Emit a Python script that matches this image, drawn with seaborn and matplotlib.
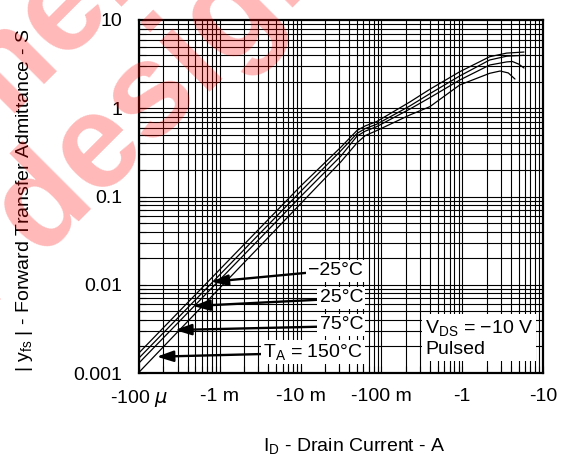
import matplotlib
matplotlib.use("Agg")
import matplotlib.pyplot as plt
import pandas as pd
import seaborn as sns
from matplotlib.ticker import LogLocator, NullFormatter

# |ID| (A) versus |yfs| (S) at each ambient temperature, VDS = -10 V, pulsed
temps = ["-25°C", "25°C", "75°C", "150°C"]

id_m25 = [1e-4, 1e-3, 1e-2, 0.0316, 0.0501, 0.0631, 0.0871, 0.224, 0.398, 0.933, 2.19, 3.55, 5.82]
yfs_m25 = [0.00169, 0.0149, 0.131, 0.363, 0.562, 0.631, 0.705, 1.175, 1.641, 2.594, 3.837, 4.217, 4.335]

id_25 = [1e-4, 1e-3, 1e-2, 0.0316, 0.0501, 0.0631, 0.0871, 0.224, 0.398, 0.933, 2.19, 3.55, 5.82]
yfs_25 = [0.00148, 0.0130, 0.114, 0.331, 0.520, 0.589, 0.658, 1.059, 1.462, 2.323, 3.524, 3.890, 3.981]

id_75 = [1e-4, 1e-3, 1e-2, 0.0316, 0.0501, 0.0631, 0.0871, 0.224, 0.398, 0.933, 2.19, 3.55, 4.17, 5.01, 5.82]
yfs_75 = [0.00130, 0.0114, 0.0998, 0.288, 0.485, 0.550, 0.618, 0.977, 1.318, 2.089, 3.090, 3.350, 3.388, 3.162, 2.858]

id_150 = [1e-4, 1e-3, 1e-2, 0.0316, 0.0501, 0.0631, 0.0871, 0.224, 0.398, 0.933, 2.19, 2.95, 3.72, 4.50]
yfs_150 = [0.00102, 0.0092, 0.0828, 0.248, 0.407, 0.490, 0.557, 0.838, 1.042, 1.837, 2.489, 2.642, 2.512, 2.143]

# where each temperature label's arrow lands on its curve
tip_id = [7.9e-4, 4.7e-4, 2.79e-4, 1.66e-4]
tip_yfs = [0.0108, 0.00574, 0.00307, 0.00153]
tip_labels = ["\u221225°C", "25°C", "75°C", r"$\mathregular{T_A}$ = 150°C"]

x_ticks = [1e-4, 1e-3, 1e-2, 1e-1, 1, 10]
x_ticklabels = [r"-100 $\mu$", "-1 m", "-10 m", "-100 m", "-1", "-10"]
y_ticks = [1e-3, 1e-2, 1e-1, 1, 10]
y_ticklabels = ["0.001", "0.01", "0.1", "1", "10"]

df = pd.concat([
    pd.DataFrame({"id": i, "yfs": y, "temp": t})
    for i, y, t in zip([id_m25, id_25, id_75, id_150],
                       [yfs_m25, yfs_25, yfs_75, yfs_150], temps)
], ignore_index=True)

sns.set_theme(style="white", rc={
    "text.color": "black", "axes.labelcolor": "black",
    "xtick.color": "black", "ytick.color": "black",
    "axes.edgecolor": "black",
})
plt.rcParams["font.family"] = ["Liberation Sans", "DejaVu Sans"]
plt.rcParams["mathtext.fontset"] = "dejavusans"

W, H = 568, 459
fig = plt.figure(figsize=(W / 100, H / 100), dpi=100)
L, R, T, B = 139, 543, 20, 373
ax = fig.add_axes([L / W, 1 - B / H, (R - L) / W, (B - T) / H])
ax.patch.set_facecolor("white")

ax.set_xscale("log")
ax.set_yscale("log")

# dense log grid (every 1..9 of each decade), kept beneath the label boxes
xgrid = [k * 10.0 ** d for d in range(-4, 1) for k in range(1, 10)]
ygrid = [k * 10.0 ** d for d in range(-3, 1) for k in range(1, 10)]
ax.vlines(xgrid, 0, 1, transform=ax.get_xaxis_transform(), colors="black", lw=0.8, zorder=0.5)
ax.hlines(ygrid, 0, 1, transform=ax.get_yaxis_transform(), colors="black", lw=0.8, zorder=0.5)

sns.lineplot(data=df, x="id", y="yfs", units="temp", estimator=None, sort=False,
             color="black", lw=0.9, ax=ax, zorder=1.5, legend=False)
ax.set_xlim(1e-4, 10)
ax.set_ylim(1e-3, 10)

ax.set_xticks(x_ticks, x_ticklabels)
ax.set_yticks(y_ticks, y_ticklabels)
ax.xaxis.set_minor_locator(LogLocator(base=10, subs=range(2, 10), numticks=20))
ax.yaxis.set_minor_locator(LogLocator(base=10, subs=range(2, 10), numticks=20))
ax.xaxis.set_minor_formatter(NullFormatter())
ax.yaxis.set_minor_formatter(NullFormatter())
ax.tick_params(which="both", direction="in", length=5, width=0.8, colors="black",
               labelsize=14, bottom=True, left=True, top=False, right=False)
ax.tick_params(axis="x", pad=11)
ax.tick_params(axis="y", pad=12)
ax.set_axisbelow(False)
ax.set_xlabel("")
ax.set_ylabel("")
for s in ax.spines.values():
    s.set_linewidth(1.6)
    s.set_color("black")
    s.set_zorder(5)

# temperature callouts
text_x = 0.0592
text_y = [0.01432, 0.00708, 0.00350, 0.00173]
for lab, ty, ti, tyf in zip(tip_labels, text_y, tip_id, tip_yfs):
    ax.annotate(lab, xy=(ti, tyf), xytext=(text_x, ty), ha="right", va="center",
                fontsize=14, zorder=2,
                bbox=dict(boxstyle="square,pad=0.12", fc="white", ec="none"),
                arrowprops=dict(arrowstyle="-|>,head_length=0.9,head_width=0.3",
                                color="black", lw=1.7, shrinkA=0, shrinkB=0,
                                mutation_scale=11, relpos=(0, 0.4)))

ax.text(0.708, 0.099, "$\\mathregular{V_{DS}}$ = \u221210 V\nPulsed", transform=ax.transAxes,
        ha="left", va="center", fontsize=14, zorder=2, linespacing=1.25,
        bbox=dict(boxstyle="square,pad=0.15", fc="white", ec="none"))

fig.text(354 / W, 1 - 446 / H, r"$\mathregular{I_D}$ - Drain Current - A",
         ha="center", va="center", fontsize=14)
fig.text(25 / W, 1 - 200 / H, r"| $\mathregular{y_{fs}}$ | - Forward Transfer Admittance - S",
         ha="center", va="center", rotation=90, fontsize=14)

# diagonal status stamp across the upper-left corner
stamp = dict(rotation=45, rotation_mode="anchor", va="baseline", fontsize=96,
             fontweight="bold", color="red", alpha=0.28, zorder=10)
fig.text(344.5 / W, 1 + 44.5 / H, "for new design", ha="right", **stamp)
fig.text(-73.4 / W, 1 - 200.8 / H, "Not recommended", ha="center", **stamp)

fig.savefig("out.png", dpi=100)
